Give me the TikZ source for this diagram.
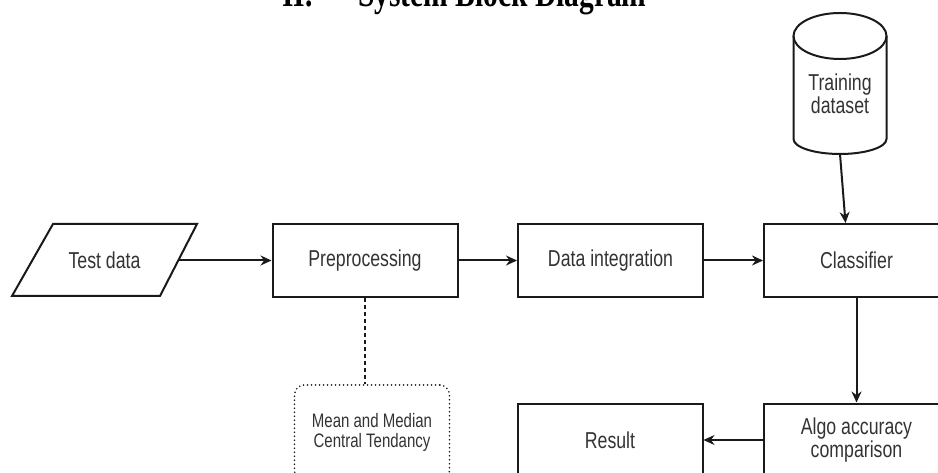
\documentclass[tikz,border=0pt]{standalone}
\usepackage{fontspec}
\setmainfont{Liberation Sans}
\newfontfamily\dfont[FakeStretch=0.77]{Liberation Sans}
\newfontfamily\tfont[FakeStretch=0.77]{Liberation Serif}
\usetikzlibrary{arrows.meta,shapes.geometric}
\definecolor{txt}{HTML}{333333}
\definecolor{ln}{HTML}{1A1A1A}
\tikzset{
  blk/.style={draw=ln, line width=2pt, minimum width=185pt, minimum height=73pt, inner sep=0pt, font=\dfont\fontsize{23}{24}\selectfont, text=txt, align=center},
  conn/.style={draw=ln, line width=2pt, -{Stealth[length=11pt,width=10pt]}},
  notebox/.style={draw=ln, line width=1.8pt, line cap=round, dash pattern=on 0pt off 4pt, rounded corners=10pt, minimum width=155pt, minimum height=96pt, anchor=north, font=\dfont\fontsize{19.5}{20}\selectfont, text=txt, align=center},
}
\begin{document}
\begin{tikzpicture}[x=1pt,y=-1pt]
\useasboundingbox (0,0) rectangle (938,473);
\clip (0,0) rectangle (938,473);
% title (cut off at top, as in the reference)
\node[anchor=base west, inner sep=0pt, font=\tfont\bfseries\fontsize{38.3}{40}\selectfont] (tnum) at (282,7) {II.};
\node[anchor=base west, inner sep=0pt, font=\tfont\bfseries\fontsize{38.3}{40}\selectfont] (title) at (358,7) {System Block Diagram};
% test data parallelogram
\draw[draw=ln, line width=2pt, line join=miter] (53,224) -- (197,224) -- (160,296) -- (12,296) -- cycle;
\node[font=\dfont\fontsize{23}{24}\selectfont, text=txt] (test) at (104.5,260) {Test data};
\coordinate (testE) at (178.5,260.5);
\node[blk] (pre) at (365,260.5) {Preprocessing};
\node[blk] (integ) at (610.5,260.5) {Data integration};
\node[blk] (cls) at (856.5,260.5) {Classifier};
\node[blk] (algo) at (856.5,440) {Algo accuracy\\[-1pt]comparison};
\node[blk] (res) at (610,440) {Result};
% cylinder
\draw[draw=ln, line width=2pt] (793.5,36) -- (793.5,139) arc[start angle=180, end angle=0, x radius=46.5, y radius=15] -- (886.5,36);
\draw[draw=ln, line width=2pt] (840,36) ellipse[x radius=46.5, y radius=23];
\node[font=\dfont\fontsize{23}{24}\selectfont, text=txt, align=center] (train) at (840,94) {Training\\[-1pt]dataset};
\coordinate (trainbot) at (840,154);
% note box
\node[notebox] (note) at (372,384) {Mean and Median\\Central Tendancy};
% connectors
\draw[conn] (testE) -- (pre.west);
\draw[conn] (pre) -- (integ);
\draw[conn] (integ) -- (cls);
\draw[conn] (trainbot) -- ([xshift=-11pt]cls.north);
\draw[conn] (cls.south) -- (algo.north);
\draw[conn] (algo.west) -- (res.east);
\draw[draw=ln, line width=1.3pt, dash pattern=on 4pt off 3pt] (pre.south) -- (note.north -| pre.south);
\end{tikzpicture}
\end{document}
